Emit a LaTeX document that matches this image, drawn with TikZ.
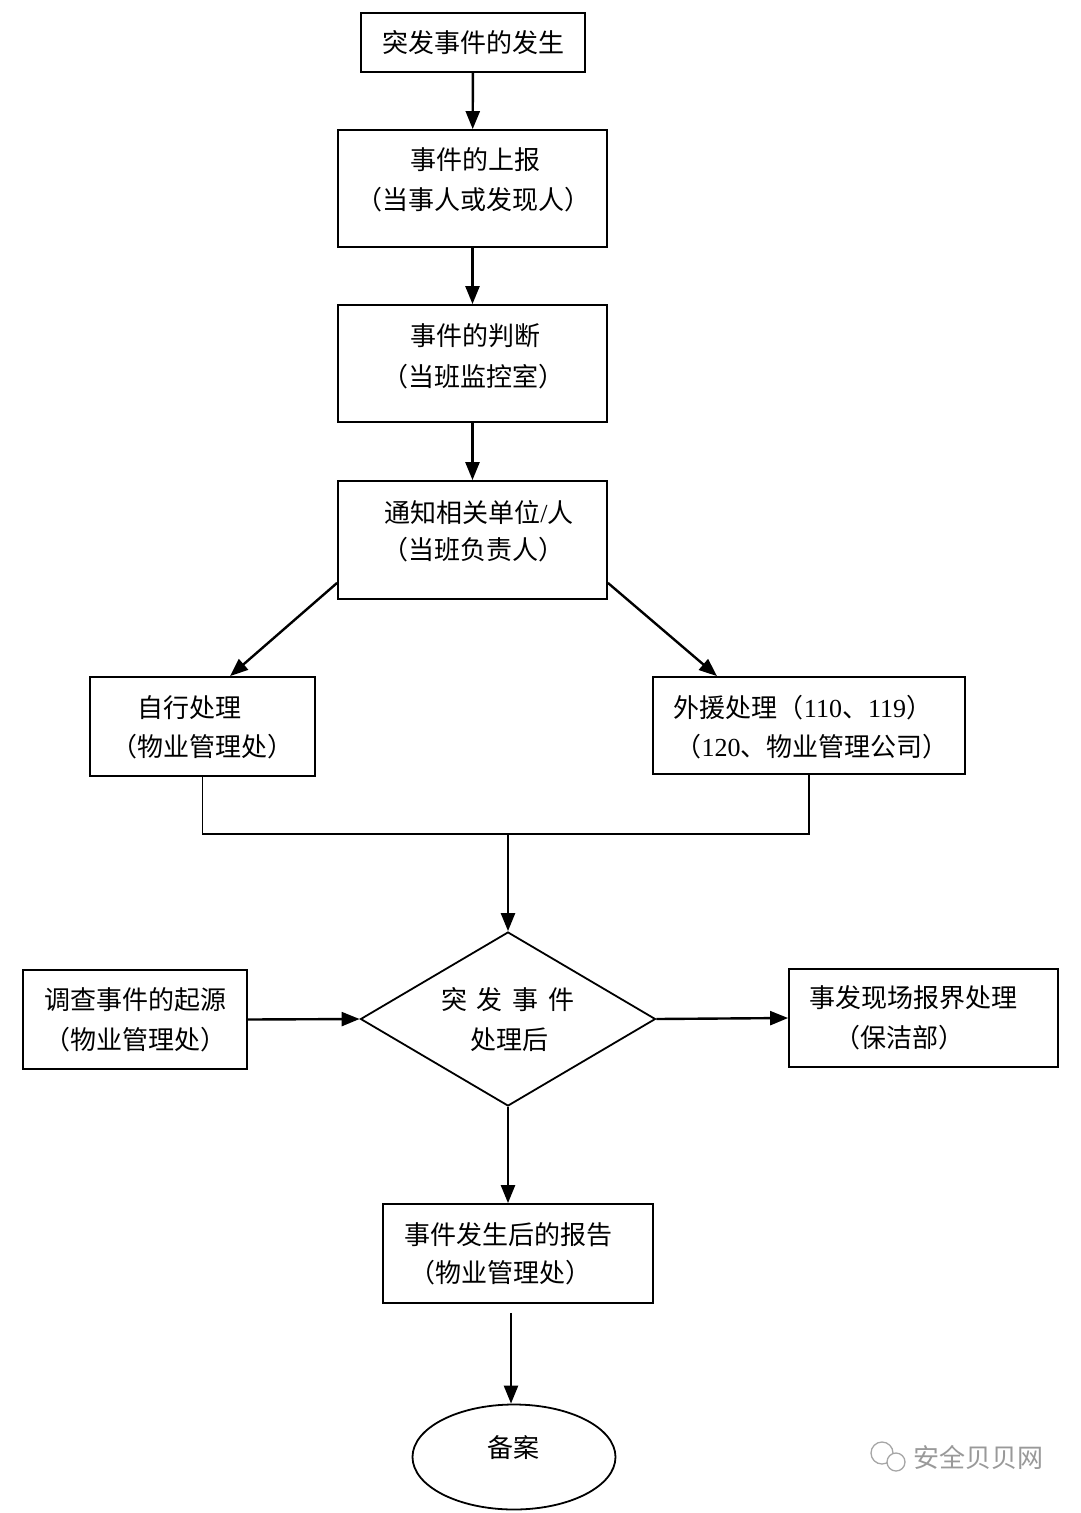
\documentclass[tikz,border=0pt]{standalone}
\usepackage{fontspec}
\setmainfont{Liberation Serif}
\newfontfamily\cjk{Noto Sans CJK SC}
\usetikzlibrary{arrows.meta,shapes.geometric}
\newcommand{\nm}[1]{{\rmfamily #1}}
\begin{document}
\begin{tikzpicture}[x=1pt,y=-1pt,
  box/.style={draw, line width=1.8pt, inner sep=0pt, rectangle},
  txt/.style={font=\cjk\fontsize{26}{30}\selectfont, inner sep=0pt, anchor=center},
  arr/.style={line width=2.4pt, -{Triangle[length=18pt,width=14pt]}},
  ln/.style={line width=1.6pt},
  wm/.style={font=\cjk\fontsize{26}{30}\selectfont, text=black!40, inner sep=0pt}]
\useasboundingbox (0,0) rectangle (1080,1513);
\fill[white] (0,0) rectangle (1080,1513);

% boxes
\node[box, minimum width=224pt, minimum height=59pt] (b1) at (473,42.5) {};
\node[box, minimum width=269pt, minimum height=117pt] (b2) at (472.5,188.5) {};
\node[box, minimum width=269pt, minimum height=117pt] (b3) at (472.5,363.5) {};
\node[box, minimum width=269pt, minimum height=118pt] (b4) at (472.5,540) {};
\node[box, minimum width=225pt, minimum height=99pt] (bL) at (202.5,726.5) {};
\node[box, minimum width=312pt, minimum height=97pt] (bR) at (809,725.5) {};
\node[draw, diamond, line width=1.8pt, inner sep=0pt, minimum width=295pt, minimum height=174pt] (dia) at (508,1019) {};
\node[box, minimum width=224pt, minimum height=99pt] (bI) at (135,1019.5) {};
\node[box, minimum width=269pt, minimum height=98pt] (bS) at (923.5,1018) {};
\node[box, minimum width=270pt, minimum height=99pt] (b6) at (518,1253.5) {};
\node[draw, ellipse, line width=1.8pt, inner sep=0pt, minimum width=203pt, minimum height=105pt] (ell) at (514,1457) {};

% texts
\node[txt] (t1) at (473,43) {突发事件的发生};
\node[txt] (t2a) at (475,160) {事件的上报};
\node[txt] (t2b) at (473,200) {（当事人或发现人）};
\node[txt] (t3a) at (475,336) {事件的判断};
\node[txt] (t3b) at (473,377) {（当班监控室）};
\node[txt] (t4a) at (479,513) {通知相关单位\nm{/}人};
\node[txt] (t4b) at (473,550) {（当班负责人）};
\node[txt] (tLa) at (189,708) {自行处理};
\node[txt] (tLb) at (202,747) {（物业管理处）};
\node[txt] (tRa) at (803,708) {外援处理（\nm{110}、\nm{119}）};
\node[txt] (tRb) at (812,747) {（\nm{120}、物业管理公司）};
\node[txt] (tDa) at (508,1000) {突\hspace{10pt}发\hspace{10pt}事\hspace{10pt}件};
\node[txt] (tDb) at (509,1040) {处理后};
\node[txt] (tIa) at (135,1000) {调查事件的起源};
\node[txt] (tIb) at (135,1040) {（物业管理处）};
\node[txt] (tSa) at (913,998) {事发现场报界处理};
\node[txt] (tSb) at (899,1038) {（保洁部）};
\node[txt] (t6a) at (508,1235) {事件发生后的报告};
\node[txt] (t6b) at (500,1273) {（物业管理处）};
\node[txt] (tE) at (513,1448) {备案};

% connectors
\draw[arr] (b1) -- (b2);
\draw[arr] (b2) -- (b3);
\draw[arr] (b3) -- (b4);
\draw[arr] ([yshift=17pt]b4.south west) -- ([xshift=27.5pt]bL.north);
\draw[arr] ([yshift=17pt]b4.south east) -- ([xshift=-92pt]bR.north);
\draw[ln] (bL.south) -- ++(0,57) -| (bR.south);
\coordinate (m) at (508,833);
\draw[arr] (m) -- (dia.north);
\draw[arr] (bI.east) -- (dia.west);
\draw[arr] (dia.east) -- (bS.west);
\draw[arr] (dia.south) -- (dia.south |- b6.north);
\draw[arr] ([xshift=-7pt,yshift=-9pt]b6.south) -- ([xshift=-3pt]ell.north);

% watermark
\draw[black!35, line width=1.3pt] (882,1453) circle (11pt);
\draw[black!35, line width=1.3pt, fill=white] (896,1462) circle (9pt);
\node[wm] (wmt) at (978,1457) {安全贝贝网};
\end{tikzpicture}
\end{document}
